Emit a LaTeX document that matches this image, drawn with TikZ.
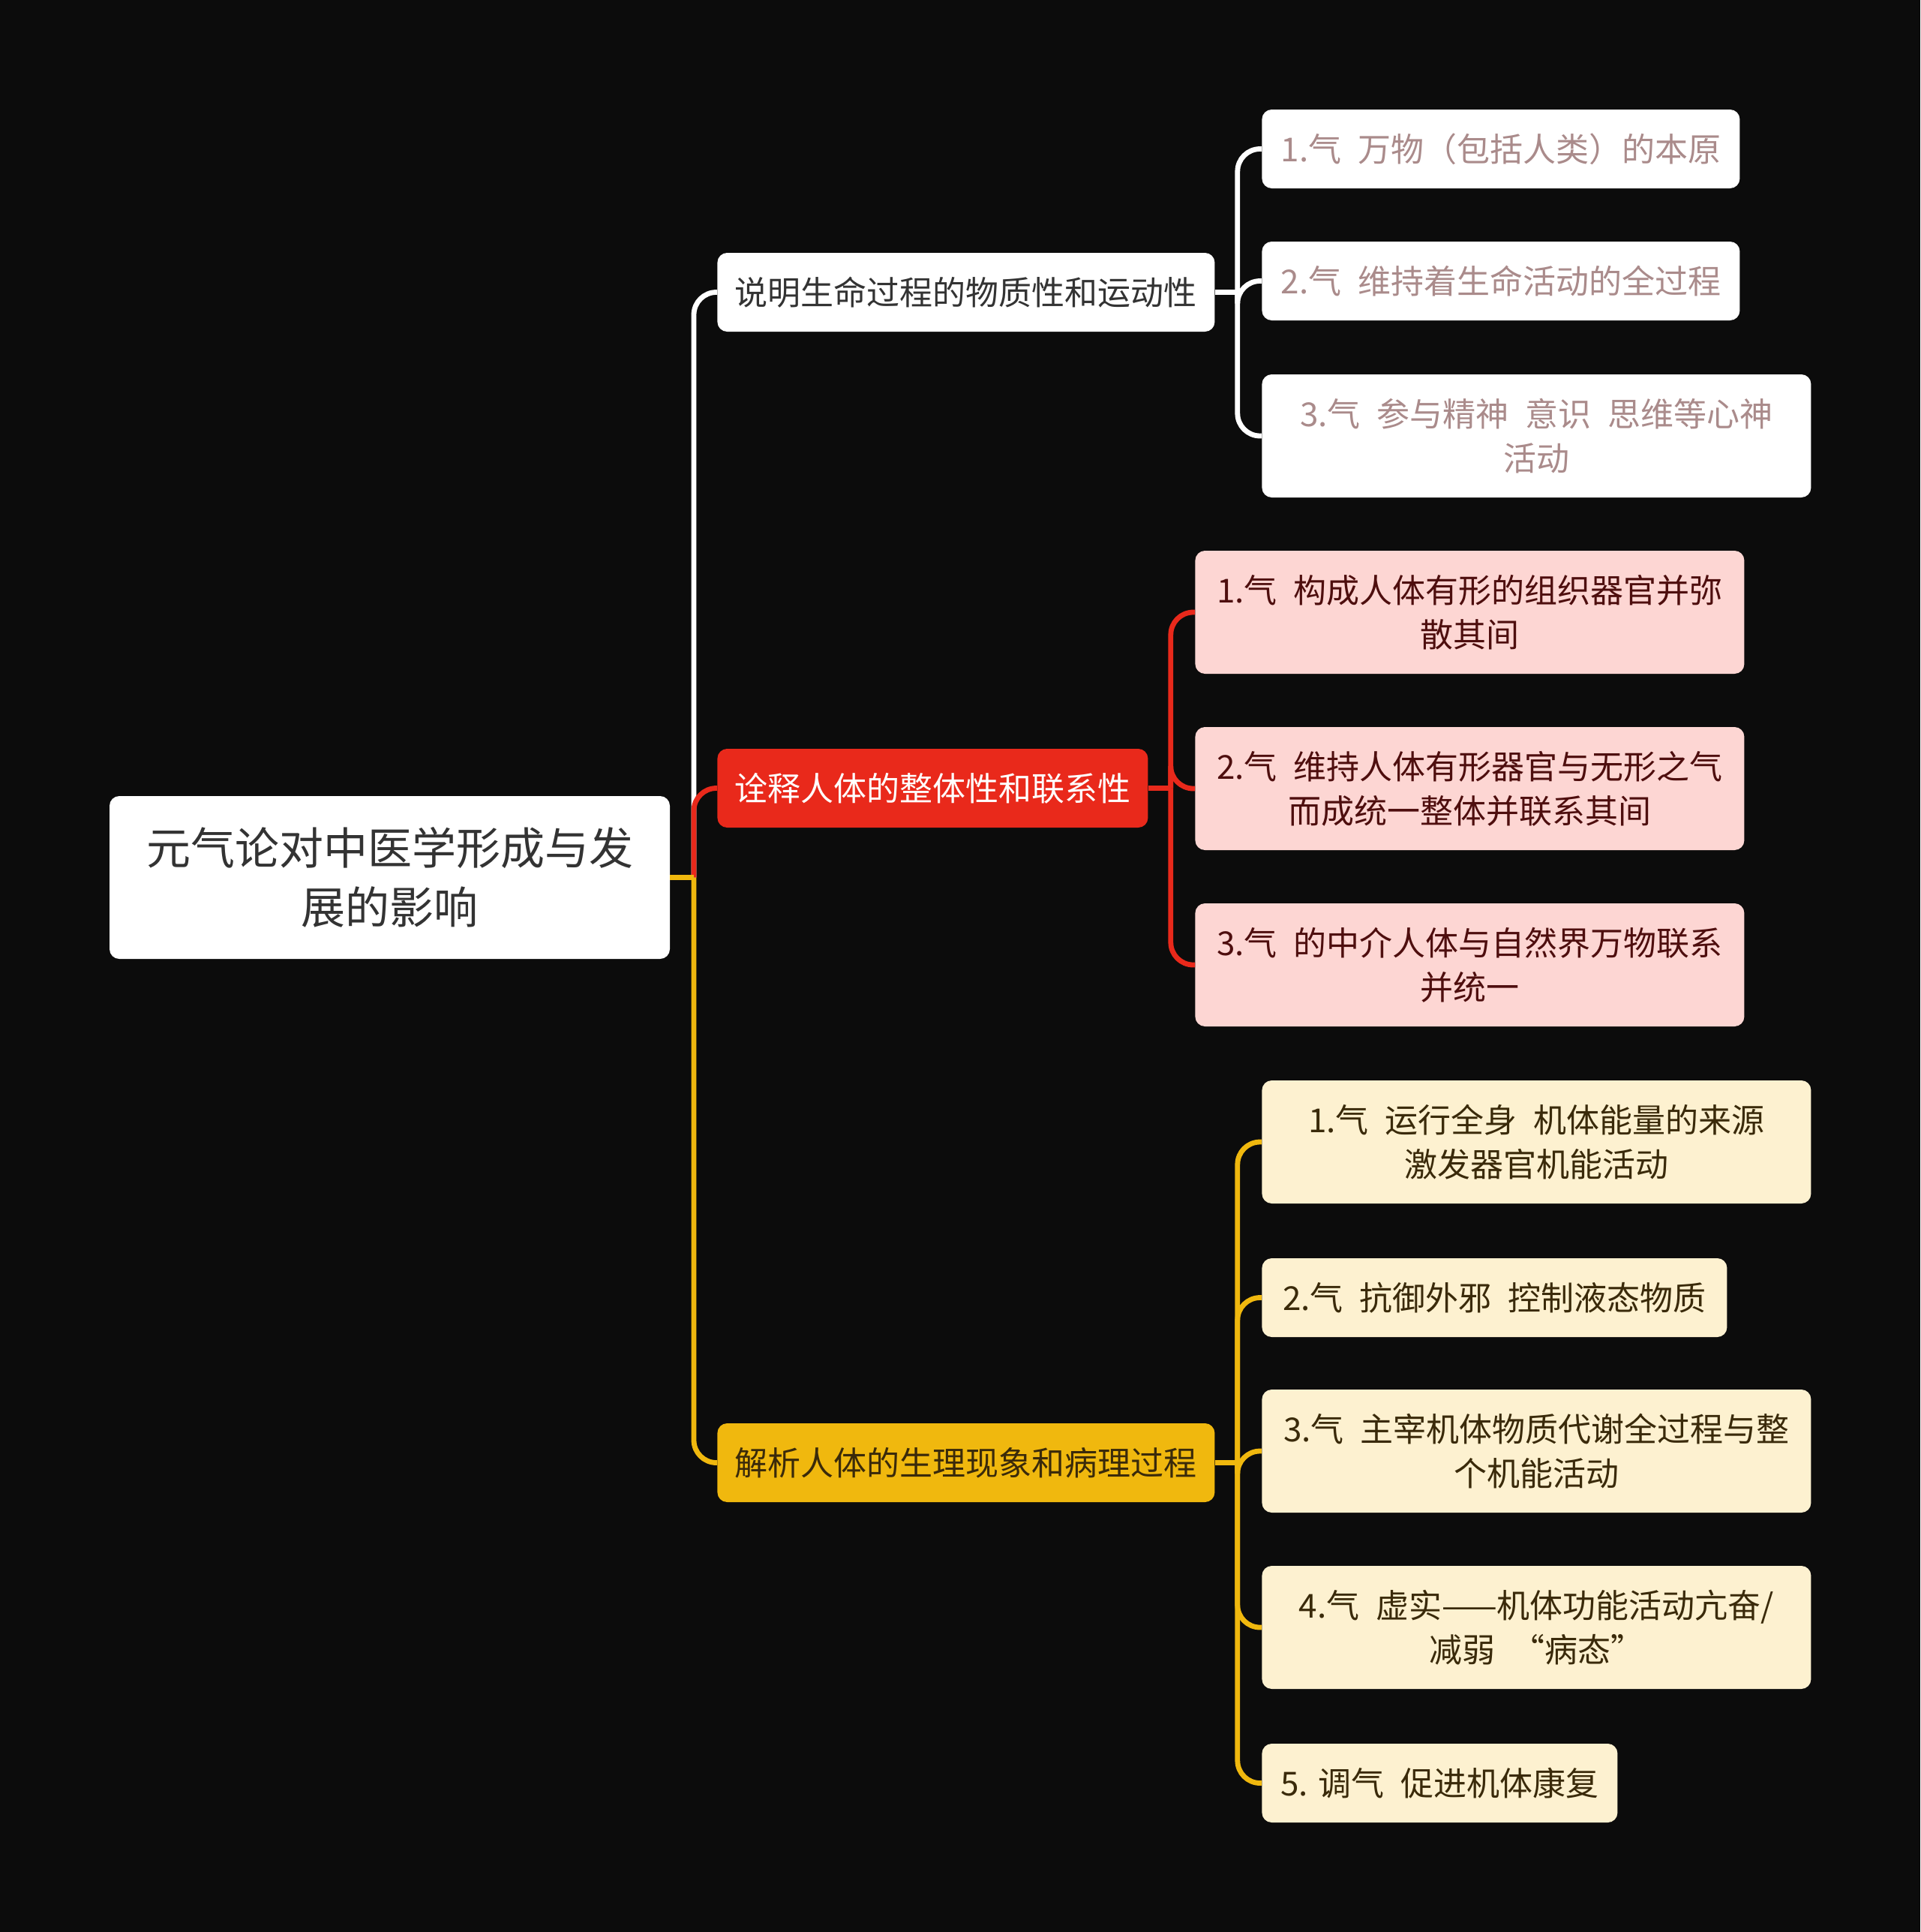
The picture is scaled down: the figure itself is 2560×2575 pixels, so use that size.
\documentclass[tikz,border=0pt]{standalone}
\usepackage{fontspec}
\setmainfont{Noto Sans CJK SC}
\definecolor{bgblack}{HTML}{0C0C0C}
\definecolor{darktext}{HTML}{333333}
\definecolor{rosetext}{HTML}{AA8B8B}
\definecolor{redmain}{HTML}{E9291B}
\definecolor{pinkfill}{HTML}{FDD6D3}
\definecolor{maroontext}{HTML}{4E0E0E}
\definecolor{yellowmain}{HTML}{F0B80E}
\definecolor{creamfill}{HTML}{FDF1D0}
\definecolor{browntext}{HTML}{3A2A0A}
\newcommand\twosp{\hspace{0.5em}}

\begin{document}
\begin{tikzpicture}[x=0.5pt, y=-0.5pt,
    box/.style={rectangle, rounded corners=6.5pt, inner sep=0pt, align=center, font=\fontsize{22}{29.5}\selectfont},
    rootbox/.style={box, fill=white, text=darktext, minimum width=373.5pt, minimum height=108.5pt, font=\fontsize{29.5}{39.5}\selectfont},
    topic/.style={box, anchor=west, minimum height=52.5pt},
    oneline/.style={box, anchor=west, minimum height=52.5pt},
    twoline/.style={box, anchor=west, minimum height=82pt},
    whiteleaf/.style={fill=white, text=rosetext},
    pinkleaf/.style={fill=pinkfill, text=maroontext},
    creamleaf/.style={fill=creamfill, text=browntext},
    wire/.style={line width=3.4pt},
    elbow/.style={wire, rounded corners=15pt}]

    \fill[bgblack] (0,0) rectangle (2560,2575);
    \useasboundingbox (0,0) rectangle (2560,2575);

    \node[rootbox] (root) at (519.5,1169.5) {元气论对中医学形成与发\\展的影响};

    \node[topic, fill=white, text=darktext, minimum width=331.5pt] (matter) at (956,389.5) {说明生命过程的物质性和运动性};
    \node[topic, fill=redmain, text=white, minimum width=287pt] (whole) at (956,1050.5) {诠释人体的整体性和联系性};
    \node[topic, fill=yellowmain, text=browntext, minimum width=331.5pt] (patho) at (956,1949.5) {解析人体的生理现象和病理过程};

    \node[oneline, whiteleaf, minimum width=318.5pt] (m1) at (1682,198.5) {1.气\twosp 万物（包括人类）的本原};
    \node[oneline, whiteleaf, minimum width=318.5pt] (m2) at (1682,374.5) {2.气\twosp 维持着生命活动的全过程};
    \node[twoline, whiteleaf, minimum width=366pt] (m3) at (1682,581) {3.气\twosp 参与精神\twosp 意识\twosp 思维等心神\\活动};

    \node[twoline, pinkleaf, minimum width=366pt] (w1) at (1593,816) {1.气\twosp 构成人体有形的组织器官并弥\\散其间};
    \node[twoline, pinkleaf, minimum width=366pt] (w2) at (1593,1051) {2.气\twosp 维持人体有形器官与无形之气\\而成统一整体并联系其间};
    \node[twoline, pinkleaf, minimum width=366pt] (w3) at (1593,1286) {3.气\twosp 的中介人体与自然界万物联系\\并统一};

    \node[twoline, creamleaf, minimum width=366pt] (p1) at (1682,1522) {1.气\twosp 运行全身\twosp 机体能量的来源\\激发器官机能活动};
    \node[oneline, creamleaf, minimum width=310pt] (p2) at (1682,1729.5) {2.气\twosp 抗御外邪\twosp 控制液态物质};
    \node[twoline, creamleaf, minimum width=366pt] (p3) at (1682,1934) {3.气\twosp 主宰机体物质代谢全过程与整\\个机能活动};
    \node[twoline, creamleaf, minimum width=366pt] (p4) at (1682,2169) {4.气\twosp 虚实——机体功能活动亢奋/\\减弱\twosp “病态”};
    \node[oneline, creamleaf, minimum width=237pt] (p5) at (1682,2376.5) {5. 调气\twosp 促进机体康复};

    \coordinate (rj) at (925,1169.5);
    \draw[elbow, white] (rj) |- (matter.west);
    \draw[elbow, redmain] (rj) |- (whole.west);
    \draw[elbow, yellowmain] (rj) |- (patho.west);
    \draw[wire, yellowmain] (root.east) -- (rj);

    \draw[wire, white] (matter.east) -- ++(30,0) coordinate (mj);
    \foreach \n in {m1,m2,m3}
        \draw[elbow, white] (mj) |- (\n.west);

    \draw[wire, redmain] (whole.east) -- ++(30,0) coordinate (wj);
    \foreach \n in {w1,w2,w3}
        \draw[elbow, redmain] (wj) |- (\n.west);

    \draw[wire, yellowmain] (patho.east) -- ++(30,0) coordinate (pj);
    \foreach \n in {p1,p2,p3,p4,p5}
        \draw[elbow, yellowmain] (pj) |- (\n.west);
\end{tikzpicture}
\end{document}
